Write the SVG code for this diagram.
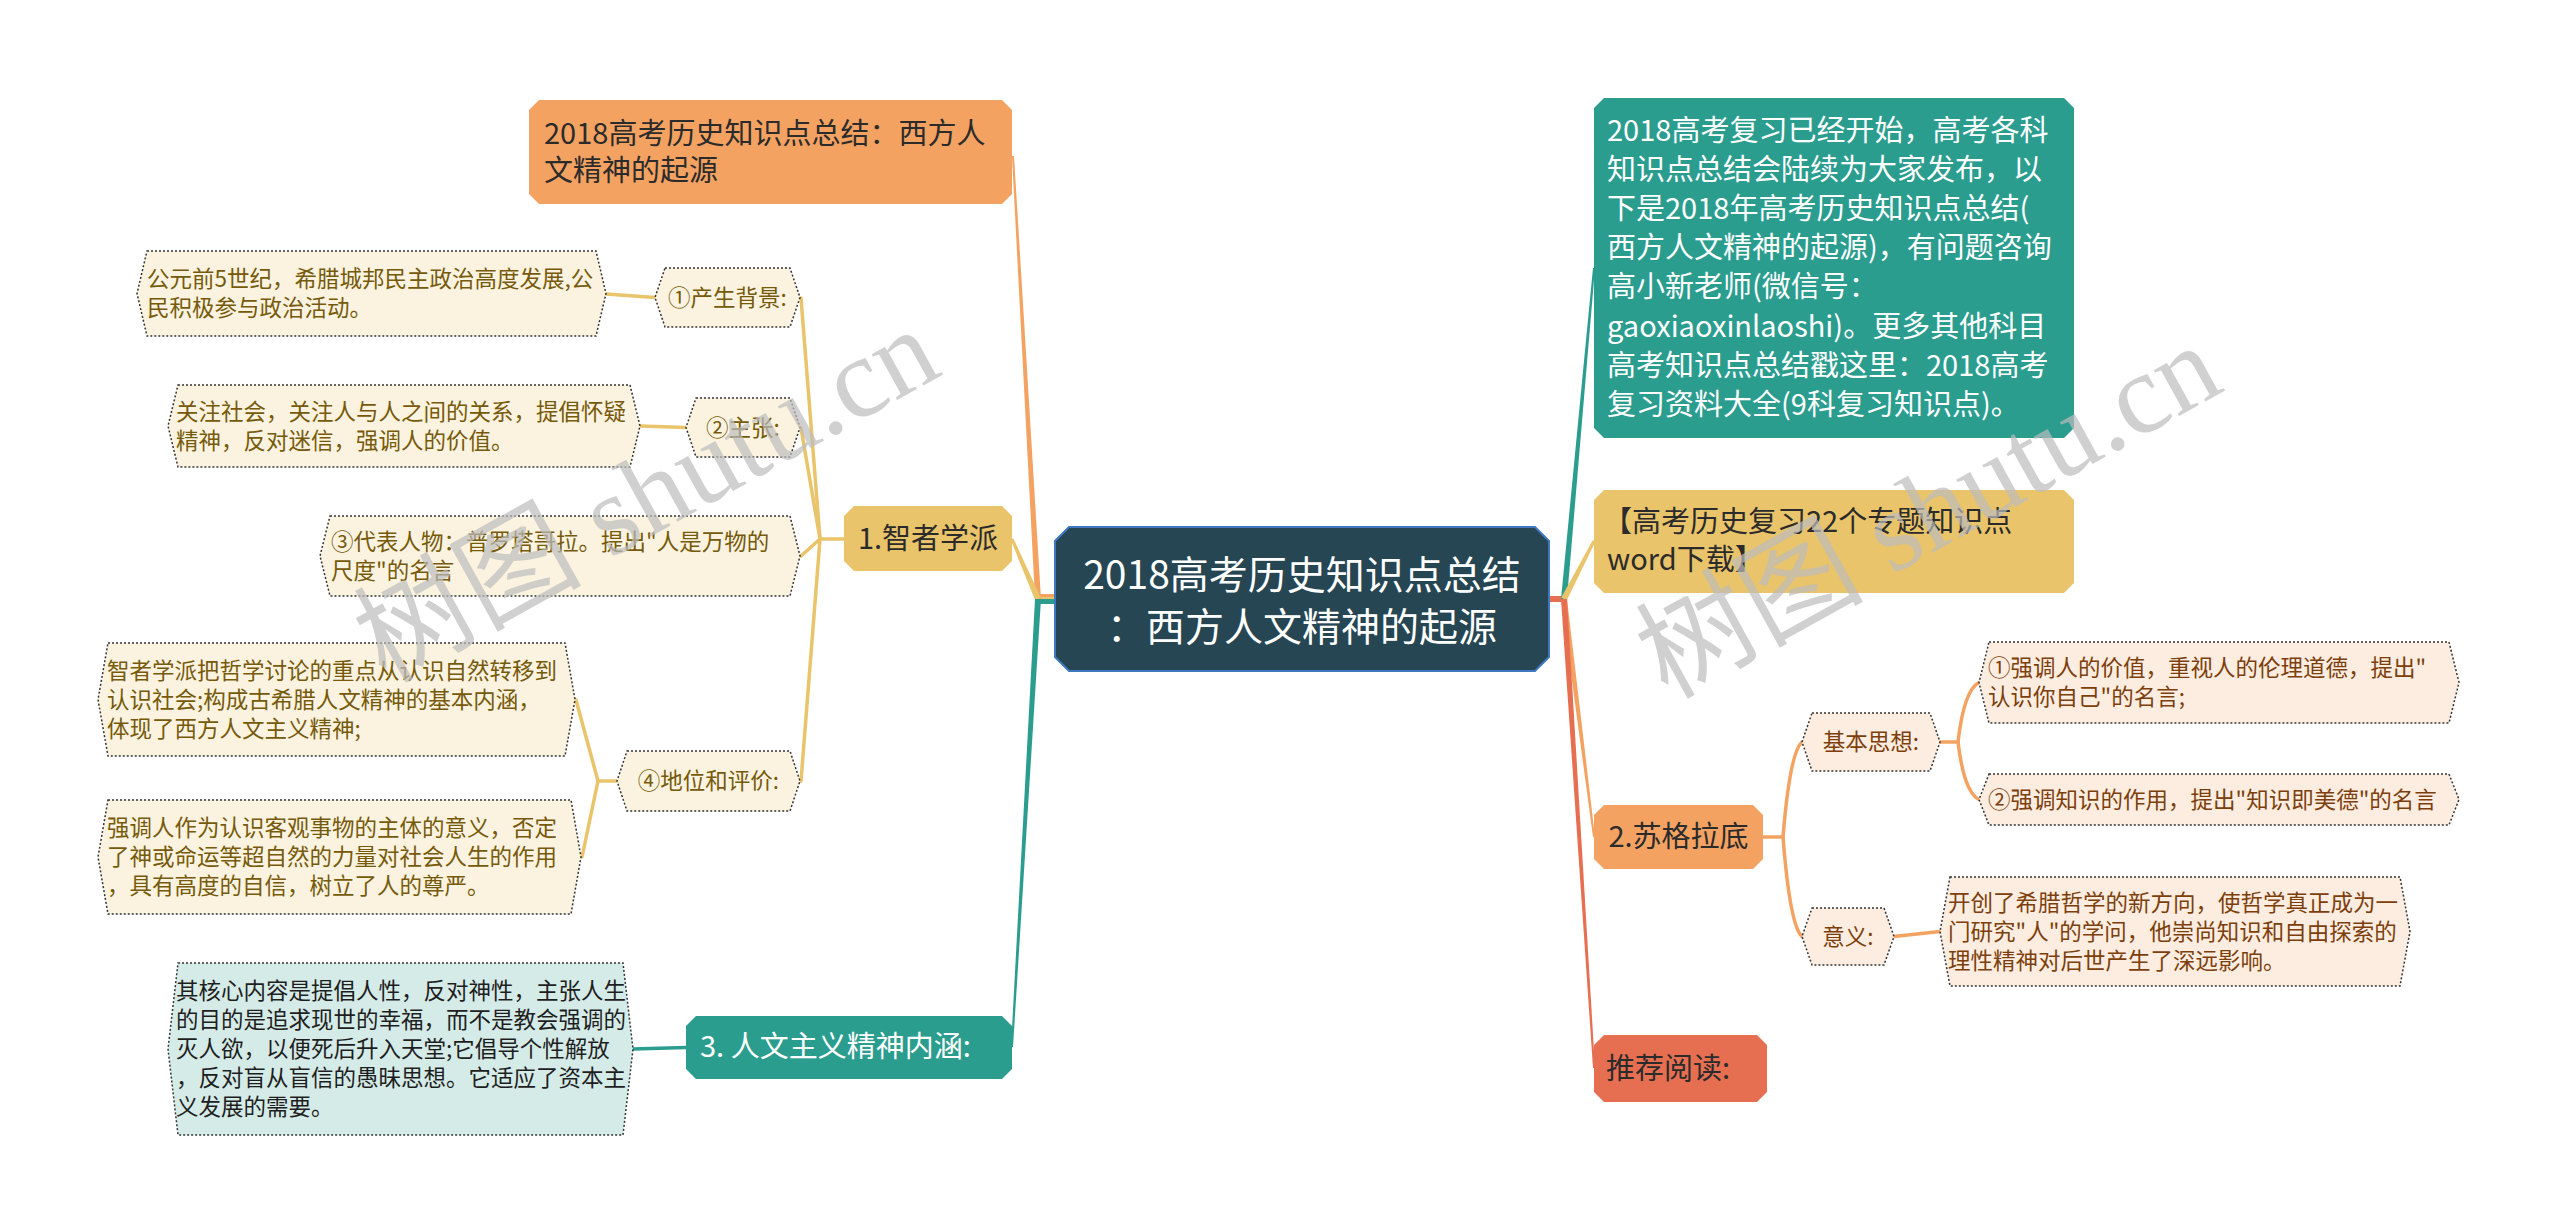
<svg xmlns="http://www.w3.org/2000/svg" width="2560" height="1231" viewBox="0 0 2560 1231">
<style>
text { font-family: "Noto Sans CJK SC", "Microsoft YaHei", sans-serif; }
.c0 { font-size: 39px; fill: #ffffff; }
.l1 { font-size: 29px; fill: #2b2b2b; }
.l1w { font-size: 29px; fill: #ffffff; }
.lf { font-size: 22.5px; }
.dot { stroke: #333333; stroke-width: 1.5; stroke-dasharray: 2 2; }
.gbg { fill: #FBF3E0; }
.obg { fill: #FDEDE1; }
.tbg { fill: #D5EBE8; }
.gt { fill: #765A0A; }
.ot { fill: #7C3F0B; }
.tt { fill: #1e1e1e; }
.sl { fill: none; stroke-width: 3.5; stroke-linecap: round; }
.wm { font-family: "Liberation Serif", "Noto Sans CJK SC", serif; font-size: 114px; fill: #bdbdbd; opacity: 0.7; }
</style>
<rect x="0" y="0" width="2560" height="1231" fill="#ffffff"/>

<g id="connectors">
  <rect x="1036" y="594" width="20" height="5" fill="#F4A261"/>
  <rect x="1036" y="597" width="20" height="5" fill="#E9C46A"/>
  <rect x="1036" y="599" width="20" height="5" fill="#2A9D8F"/>
  <polygon points="1035,599 1012,156 1014,156 1041,599" fill="#F4A261"/>
  <polygon points="1040.8,597.8 1013.4,538.4 1010.6,539.6 1035.2,600.2" fill="#E9C46A"/>
  <polygon points="1035,599 1011,1047 1013,1047 1041,599" fill="#2A9D8F"/>
  <rect x="1548" y="596" width="18" height="6" fill="#E76F51"/>
  <polygon points="1561,599 1593,268 1595,268 1567,599" fill="#2A9D8F"/>
  <polygon points="1566.7,600.4 1595.3,541.7 1592.7,540.3 1561.3,597.6" fill="#E9C46A"/>
  <polygon points="1561,599 1593,837 1595,837 1567,599" fill="#F4A261"/>
  <polygon points="1561,599 1593,1068 1595,1068 1567,599" fill="#E76F51"/>
  <g class="sl" stroke="#E9C46A">
    <path d="M844,539 L820,539"/>
    <path d="M820,539 L801,298"/>
    <path d="M820,539 L801,428"/>
    <path d="M820,539 L801,556"/>
    <path d="M820,539 L801,781"/>
    <path d="M617,781 L598,781"/>
    <path d="M598,781 L576,700"/>
    <path d="M598,781 L582,857"/>
    <path d="M655,297.5 L606,294"/>
    <path d="M686,427.5 L640,426"/>
  </g>
  <g class="sl" stroke="#2A9D8F">
    <path d="M686,1047.5 L633,1049"/>
  </g>
  <g class="sl" stroke="#F4A261">
    <path d="M1763,837 L1783,837"/>
    <path d="M1783,837 Q1790,752 1802,742"/>
    <path d="M1783,837 Q1790,926 1802,936.5"/>
    <path d="M1940,742 L1958,742"/>
    <path d="M1958,742 Q1964,690 1979,682.5"/>
    <path d="M1958,742 Q1964,792 1979,799.5"/>
    <path d="M1894,936.5 L1940,931.5"/>
  </g>
</g>

<g id="center">
  <polygon points="1069,527 1535,527 1549,541 1549,657 1535,671 1069,671 1055,657 1055,541" fill="#264653" stroke="#3F78C0" stroke-width="2"/>
  <text class="c0" x="1302" y="589" text-anchor="middle">2018高考历史知识点总结</text>
  <text class="c0" x="1302" y="641" text-anchor="middle">：西方人文精神的起源</text>
</g>

<g id="n-title">
  <polygon points="539,100 1002,100 1012,110 1012,194 1002,204 539,204 529,194 529,110" fill="#F4A261"/>
  <text class="l1" x="544" y="144">2018高考历史知识点总结：西方人</text>
  <text class="l1" x="544" y="181">文精神的起源</text>
</g>

<g id="n-zhizhe">
  <polygon points="854,506 1002,506 1012,516 1012,561 1002,571 854,571 844,561 844,516" fill="#E9C46A"/>
  <text class="l1" x="928" y="549" text-anchor="middle">1.智者学派</text>
</g>

<g id="n-bg">
  <polygon class="gbg dot" points="665,268 790,268 800,297.5 790,327 665,327 655,297.5"/>
  <text class="lf gt" x="727.5" y="305.5" text-anchor="middle">①产生背景:</text>
</g>
<g id="n-bg-leaf">
  <polygon class="gbg dot" points="147,251 596,251 606,293.5 596,336 147,336 137,293.5"/>
  <text class="lf gt" x="147" y="287">公元前5世纪，希腊城邦民主政治高度发展,公</text>
  <text class="lf gt" x="147" y="316">民积极参与政治活动。</text>
</g>

<g id="n-zz">
  <polygon class="gbg dot" points="696,398 790,398 800,427.5 790,457 696,457 686,427.5"/>
  <text class="lf gt" x="743" y="435.5" text-anchor="middle">②主张:</text>
</g>
<g id="n-zz-leaf">
  <polygon class="gbg dot" points="178,385 630,385 640,426 630,467 178,467 168,426"/>
  <text class="lf gt" x="176" y="420">关注社会，关注人与人之间的关系，提倡怀疑</text>
  <text class="lf gt" x="176" y="449">精神，反对迷信，强调人的价值。</text>
</g>

<g id="n-db">
  <polygon class="gbg dot" points="330,516 790,516 800,556 790,596 330,596 320,556"/>
  <text class="lf gt" x="331" y="550">③代表人物：普罗塔哥拉。提出"人是万物的</text>
  <text class="lf gt" x="331" y="579">尺度"的名言</text>
</g>

<g id="n-dw">
  <polygon class="gbg dot" points="627,751 790,751 800,781 790,811 627,811 617,781"/>
  <text class="lf gt" x="708.5" y="789" text-anchor="middle">④地位和评价:</text>
</g>
<g id="n-dw-leaf1">
  <polygon class="gbg dot" points="108,643 565,643 575,699.5 565,756 108,756 98,699.5"/>
  <text class="lf gt" x="107" y="679">智者学派把哲学讨论的重点从认识自然转移到</text>
  <text class="lf gt" x="107" y="708">认识社会;构成古希腊人文精神的基本内涵，</text>
  <text class="lf gt" x="107" y="737">体现了西方人文主义精神;</text>
</g>
<g id="n-dw-leaf2">
  <polygon class="gbg dot" points="108,800 571,800 581,857 571,914 108,914 98,857"/>
  <text class="lf gt" x="107" y="836">强调人作为认识客观事物的主体的意义，否定</text>
  <text class="lf gt" x="107" y="865">了神或命运等超自然的力量对社会人生的作用</text>
  <text class="lf gt" x="107" y="894">，具有高度的自信，树立了人的尊严。</text>
</g>

<g id="n-rw">
  <polygon points="696,1016 1002,1016 1012,1026 1012,1069 1002,1079 696,1079 686,1069 686,1026" fill="#2A9D8F"/>
  <text class="l1w" x="700" y="1057">3. 人文主义精神内涵:</text>
</g>
<g id="n-rw-leaf">
  <polygon class="tbg dot" points="178,963 623,963 633,1049 623,1135 178,1135 168,1049"/>
  <text class="lf tt" x="176" y="999">其核心内容是提倡人性，反对神性，主张人生</text>
  <text class="lf tt" x="176" y="1028">的目的是追求现世的幸福，而不是教会强调的</text>
  <text class="lf tt" x="176" y="1057">灭人欲，以便死后升入天堂;它倡导个性解放</text>
  <text class="lf tt" x="176" y="1086">，反对盲从盲信的愚昧思想。它适应了资本主</text>
  <text class="lf tt" x="176" y="1115">义发展的需要。</text>
</g>

<g id="n-intro">
  <polygon points="1604,98 2064,98 2074,108 2074,428 2064,438 1604,438 1594,428 1594,108" fill="#2A9D8F"/>
  <text class="l1w" x="1607" y="141">2018高考复习已经开始，高考各科</text>
  <text class="l1w" x="1607" y="180">知识点总结会陆续为大家发布，以</text>
  <text class="l1w" x="1607" y="219">下是2018年高考历史知识点总结(</text>
  <text class="l1w" x="1607" y="258">西方人文精神的起源)，有问题咨询</text>
  <text class="l1w" x="1607" y="297">高小新老师(微信号：</text>
  <text class="l1w" x="1607" y="337">gaoxiaoxinlaoshi)。更多其他科目</text>
  <text class="l1w" x="1607" y="376">高考知识点总结戳这里：2018高考</text>
  <text class="l1w" x="1607" y="415">复习资料大全(9科复习知识点)。</text>
</g>

<g id="n-word">
  <polygon points="1604,490 2064,490 2074,500 2074,583 2064,593 1604,593 1594,583 1594,500" fill="#E9C46A"/>
  <text class="l1" x="1603" y="532">【高考历史复习22个专题知识点</text>
  <text class="l1" x="1607" y="570">word下载】</text>
</g>

<g id="n-sgld">
  <polygon points="1604,805 1753,805 1763,815 1763,859 1753,869 1604,869 1594,859 1594,815" fill="#F4A261"/>
  <text class="l1" x="1678.5" y="847" text-anchor="middle">2.苏格拉底</text>
</g>
<g id="n-jbsx">
  <polygon class="obg dot" points="1812,713 1930,713 1940,742 1930,771 1812,771 1802,742"/>
  <text class="lf ot" x="1871" y="750" text-anchor="middle">基本思想:</text>
</g>
<g id="n-jbsx-leaf1">
  <polygon class="obg dot" points="1989,642 2449,642 2459,682.5 2449,723 1989,723 1979,682.5"/>
  <text class="lf ot" x="1988" y="676">①强调人的价值，重视人的伦理道德，提出"</text>
  <text class="lf ot" x="1988" y="705">认识你自己"的名言;</text>
</g>
<g id="n-jbsx-leaf2">
  <polygon class="obg dot" points="1989,774 2449,774 2459,799.5 2449,825 1989,825 1979,799.5"/>
  <text class="lf ot" x="1988" y="807.5">②强调知识的作用，提出"知识即美德"的名言</text>
</g>
<g id="n-yy">
  <polygon class="obg dot" points="1812,908 1884,908 1894,936.5 1884,965 1812,965 1802,936.5"/>
  <text class="lf ot" x="1848" y="944.5" text-anchor="middle">意义:</text>
</g>
<g id="n-yy-leaf">
  <polygon class="obg dot" points="1950,877 2400,877 2410,931.5 2400,986 1950,986 1940,931.5"/>
  <text class="lf ot" x="1948" y="911">开创了希腊哲学的新方向，使哲学真正成为一</text>
  <text class="lf ot" x="1948" y="940">门研究"人"的学问，他崇尚知识和自由探索的</text>
  <text class="lf ot" x="1948" y="969">理性精神对后世产生了深远影响。</text>
</g>

<g id="n-tjyd">
  <polygon points="1604,1035 1757,1035 1767,1045 1767,1092 1757,1102 1604,1102 1594,1092 1594,1045" fill="#E76F51"/>
  <text class="l1" x="1606" y="1079">推荐阅读:</text>
</g>

<g id="watermark">
  <text class="wm" x="648" y="533" text-anchor="middle" transform="rotate(-29 648 498)">树图 shutu.cn</text>
  <text class="wm" x="1930" y="549" text-anchor="middle" transform="rotate(-29 1930 514)">树图 shutu.cn</text>
</g>
</svg>
